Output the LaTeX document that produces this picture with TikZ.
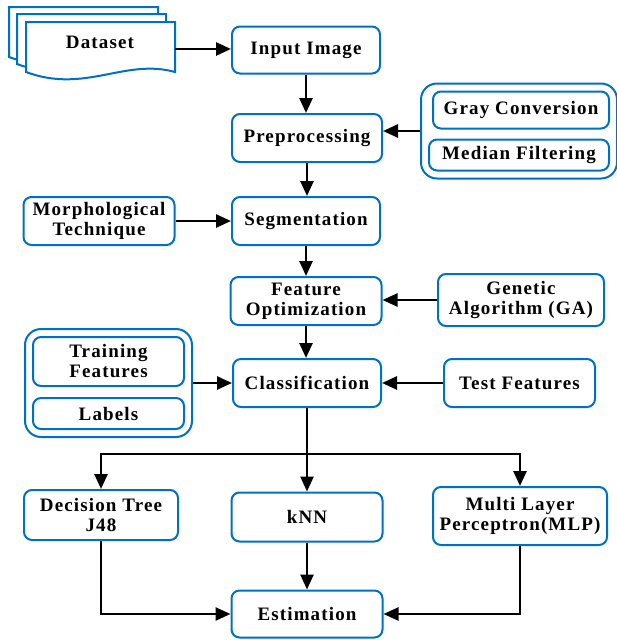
\documentclass[tikz,border=0pt]{standalone}
\usepackage{fontspec}
\setmainfont{Liberation Serif}[LetterSpace=6]
\usetikzlibrary{arrows.meta,positioning,fit,calc}
\definecolor{boxblue}{RGB}{0,112,192}

\tikzset{
  stagebox/.style={draw=boxblue,line width=2pt,rounded corners=8pt,fill=white,
    minimum width=148pt,minimum height=47pt,align=center,inner sep=2pt,
    font=\bfseries\fontsize{19}{20}\selectfont},
  groupbox/.style={draw=boxblue,line width=2pt,rounded corners=16pt,inner sep=7pt},
  flow/.style={line width=2.6pt,-{Triangle[length=15pt,width=13pt]}},
  bus/.style={line width=2.6pt},
  page/.style={draw=boxblue,line width=2pt,fill=white},
}

\begin{document}
\begin{tikzpicture}[x=1pt,y=-1pt]
  \useasboundingbox (0,0) rectangle (617,640);

  % dataset pages, back to front
  \foreach \dx/\dy in {-17/-15,-9/-8,0/0}{
    \draw[page,shift={(\dx,\dy)}] (26,22) -- (175,22) -- (175,72)
      .. controls (125,58) and (85,94) .. (26,72) -- cycle;
  }
  \node[font=\bfseries\fontsize{19}{20}\selectfont] (dataset) at (100,42) {Dataset};
  \coordinate (dataR) at (175,49);

  % main column
  \node[stagebox] (input) at (306,50) {Input Image};
  \node[stagebox,minimum width=150pt,minimum height=48pt] (prep) at (307,138) {Preprocessing};
  \node[stagebox,minimum height=48pt] (seg) at (306,221) {Segmentation};
  \node[stagebox,minimum width=151pt,minimum height=48pt] (featopt) at (306,301) {Feature\\Optimization};
  \node[stagebox,minimum height=48pt] (classif) at (307,383) {Classification};

  % side inputs
  \node[stagebox,minimum width=176pt,minimum height=37pt] (gray) at (521,110) {Gray Conversion};
  \node[stagebox,minimum width=180pt,minimum height=31pt] (median) at (519,155) {Median Filtering};
  \node[groupbox,fit=(gray)(median)] (prepgroup) {};
  \node[stagebox,minimum width=151pt,minimum height=48pt] (morph) at (99,221) {Morphological\\Technique};
  \node[stagebox,minimum width=166pt,minimum height=52pt] (genetic) at (521,300) {Genetic\\Algorithm (GA)};
  \node[stagebox,minimum width=151pt,minimum height=49pt] (train) at (108.5,361.5) {Training\\Features};
  \node[stagebox,minimum width=151pt,minimum height=31pt] (labels) at (108.5,413.5) {Labels};
  \node[groupbox,fit=(train)(labels)] (traingroup) {};
  \node[stagebox,minimum width=151pt,minimum height=48pt] (test) at (519.5,383) {Test Features};

  % classifiers
  \node[stagebox,minimum width=154pt,minimum height=50pt] (dtree) at (101,515) {Decision Tree\\J48};
  \node[stagebox,minimum width=151pt,minimum height=49pt] (knn) at (307,517) {kNN};
  \node[stagebox,minimum width=174pt,minimum height=58pt] (mlp) at (520,516) {Multi Layer\\Perceptron(MLP)};
  \node[stagebox,minimum width=151pt,minimum height=47pt] (estim) at (307,614) {Estimation};

  % connectors
  \draw[flow] (dataR) -- (input.west |- dataR);
  \draw[flow] (input.south) -- (input.south |- prep.north);
  \draw[flow] (prepgroup.west) -- (prep.east |- prepgroup.west);
  \draw[flow] (prep.south) -- (prep.south |- seg.north);
  \draw[flow] (morph.east) -- (seg.west);
  \draw[flow] (seg.south) -- (seg.south |- featopt.north);
  \draw[flow] (genetic.west) -- (featopt.east |- genetic.west);
  \draw[flow] (featopt.south) -- (featopt.south |- classif.north);
  \draw[flow] (traingroup.east) -- (classif.west |- traingroup.east);
  \draw[flow] (test.west) -- (classif.east |- test.west);
  \coordinate (split) at (307,454);
  \draw[bus] (classif.south) -- (split);
  \draw[flow] (split) -| (dtree.north);
  \draw[flow] (split) -- (knn.north);
  \draw[flow] (split) -| (mlp.north);
  \draw[flow] (dtree.south) |- (estim.west);
  \draw[flow] (knn.south) -- (estim.north);
  \draw[flow] (mlp.south) |- (estim.east);
\end{tikzpicture}
\end{document}
